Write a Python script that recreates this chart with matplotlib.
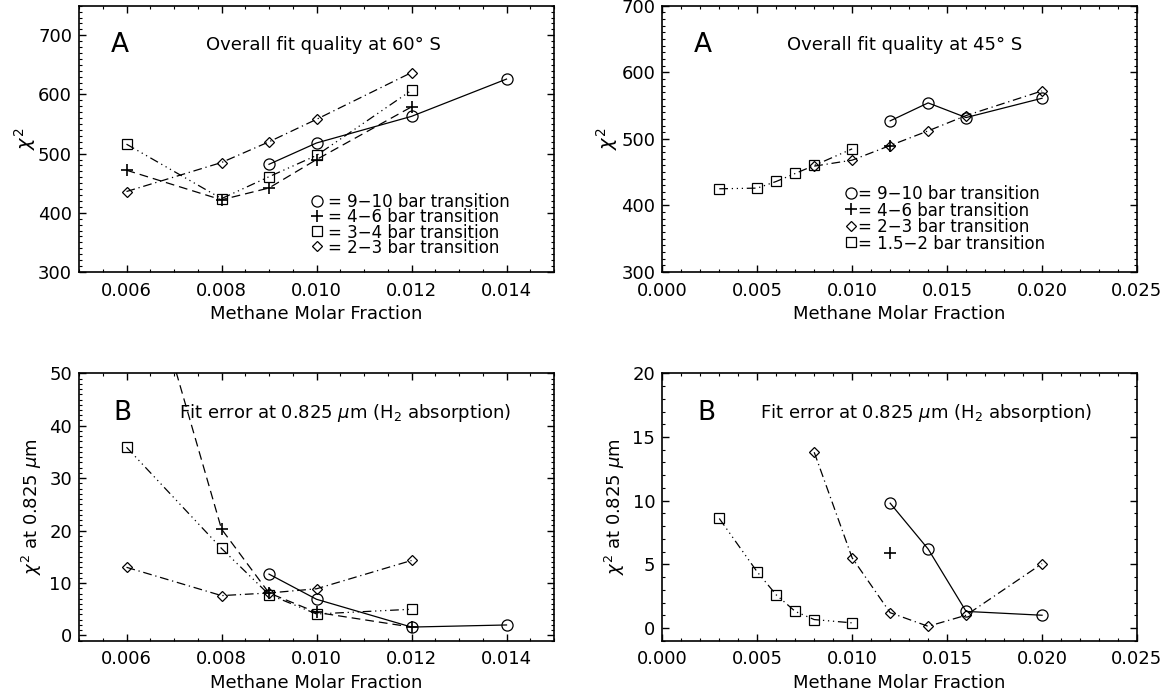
import numpy as np
import matplotlib
matplotlib.use("Agg")
import matplotlib.pyplot as plt
from matplotlib.ticker import MultipleLocator, FormatStrFormatter

plt.rcParams["font.family"] = ["DejaVu Sans"]
plt.rcParams["mathtext.fontset"] = "dejavusans"

# 60 S: overall chi^2
x60_circ = [0.009, 0.010, 0.012, 0.014]
chi60_circ = [482, 518, 563, 626]
x60_plus = [0.006, 0.008, 0.009, 0.010, 0.012]
chi60_plus = [472, 422, 442, 490, 579]
x60_sq = [0.006, 0.008, 0.009, 0.010, 0.012]
chi60_sq = [516, 424, 461, 497, 607]
x60_dia = [0.006, 0.008, 0.009, 0.010, 0.012]
chi60_dia = [436, 485, 520, 558, 637]

# 60 S: chi^2 at 0.825 um
err60_circ = [11.7, 6.9, 1.6, 2.0]
err60_plus = [83.0, 20.3, 8.1, 4.4, 1.6]
err60_sq = [35.9, 16.6, 7.8, 4.1, 5.0]
err60_dia = [13.0, 7.6, 8.1, 8.9, 14.3]

# 45 S: overall chi^2
x45_circ = [0.012, 0.014, 0.016, 0.020]
chi45_circ = [527, 554, 532, 561]
x45_plus = [0.012]
chi45_plus = [490]
x45_dia = [0.008, 0.010, 0.012, 0.014, 0.016, 0.020]
chi45_dia = [459, 468, 490, 512, 535, 572]
x45_sq = [0.003, 0.005, 0.006, 0.007, 0.008, 0.010]
chi45_sq = [425, 426, 436, 448, 460, 485]

# 45 S: chi^2 at 0.825 um
err45_circ = [9.8, 6.2, 1.3, 1.0]
err45_plus = [5.9]
err45_dia = [13.8, 5.5, 1.2, 0.13, 1.0, 5.05]
err45_sq = [8.6, 4.4, 2.6, 1.3, 0.66, 0.4]

labels60 = ["9\u221210 bar transition", "4\u22126 bar transition",
            "3\u22124 bar transition", "2\u22123 bar transition"]
labels45 = ["9\u221210 bar transition", "4\u22126 bar transition",
            "2\u22123 bar transition", "1.5\u22122 bar transition"]

LW = 0.9
DASH = (0, (7, 4))
DASHDOT = (0, (7, 3, 1, 3))
DASH3DOT = (0, (7, 3, 1, 3, 1, 3, 1, 3))
ST = {
    "circ": dict(marker="o", ms=8, ls="-"),
    "plus": dict(marker="+", ms=8.5, ls=DASH, mew=1.2),
    "sq": dict(marker="s", ms=7.5, ls=DASH3DOT),
    "dia": dict(marker="D", ms=5.5, ls=DASHDOT),
}
FS = 13

W, H = 1166, 694
fig = plt.figure(figsize=(W / 100, H / 100), dpi=100)


def make_ax(l, r, t, b):
    return fig.add_axes([l / W, 1 - b / H, (r - l) / W, (b - t) / H])


def series(ax, x, y, kind):
    st = ST[kind]
    ax.plot(x, y, color="black", lw=LW, linestyle=st["ls"], marker=st["marker"],
            ms=st["ms"], mfc="none", mec="black", mew=st.get("mew", 0.9))


def style(ax, xlim, xmaj, xmin, ylim, ymaj, ymin):
    ax.set_xlim(*xlim)
    ax.set_ylim(*ylim)
    ax.xaxis.set_major_locator(MultipleLocator(xmaj))
    ax.xaxis.set_minor_locator(MultipleLocator(xmin))
    ax.yaxis.set_major_locator(MultipleLocator(ymaj))
    ax.yaxis.set_minor_locator(MultipleLocator(ymin))
    ax.xaxis.set_major_formatter(FormatStrFormatter("%.3f"))
    ax.tick_params(which="both", direction="in", top=True, right=True, labelsize=FS)
    ax.tick_params(which="major", length=5, width=1)
    ax.tick_params(which="minor", length=2.5, width=0.8)
    ax.tick_params(axis="x", pad=7)
    ax.tick_params(axis="y", pad=5)
    for s in ax.spines.values():
        s.set_linewidth(1.2)
    ax.set_xlabel("Methane Molar Fraction", fontsize=FS)


def legend_block(ax, x0, y0_px, dy_px, kinds, labels, gap, ls):
    # markers on each row, labels as one multi-line text block
    h_ax = ax.get_position().height * H
    rows = []
    for i, k in enumerate(kinds):
        st = ST[k]
        y = y0_px - i * dy_px
        rows.append(y)
        ax.plot([x0], [y / h_ax], transform=ax.transAxes, marker=st["marker"],
                ms=st["ms"], mfc="none", mec="black", mew=st.get("mew", 0.9),
                ls="none", clip_on=False)
    yc = (np.mean(rows) - 1.5) / h_ax
    ax.text(x0 + gap, yc, "\n".join("= " + s for s in labels), transform=ax.transAxes,
            fontsize=12, va="center", ha="left", linespacing=ls)


# top-left: 60 S overall
ax1 = make_ax(79, 554, 5.7, 272)
series(ax1, x60_circ, chi60_circ, "circ")
series(ax1, x60_plus, chi60_plus, "plus")
series(ax1, x60_sq, chi60_sq, "sq")
series(ax1, x60_dia, chi60_dia, "dia")
style(ax1, (0.005, 0.015), 0.002, 0.0005, (300, 750), 100, 10)
ax1.set_ylabel(r"$\chi^2$", fontsize=14)
ax1.yaxis.set_label_coords(-0.114, 0.5)
ax1.text(0.086, 0.853, "A", transform=ax1.transAxes, fontsize=19, ha="center", va="center")
ax1.text(0.515, 0.853, "Overall fit quality at 60\u00b0 S", transform=ax1.transAxes,
         fontsize=FS, ha="center", va="center")
legend_block(ax1, (316.7 - 79) / 475, 272 - 201, 15, ["circ", "plus", "sq", "dia"],
             labels60, 0.024, 0.816)

# top-right: 45 S overall
ax2 = make_ax(662.3, 1137, 5.7, 272)
series(ax2, x45_circ, chi45_circ, "circ")
series(ax2, x45_dia, chi45_dia, "dia")
series(ax2, x45_sq, chi45_sq, "sq")
series(ax2, x45_plus, chi45_plus, "plus")
style(ax2, (0.0, 0.025), 0.005, 0.001, (300, 700), 100, 10)
ax2.set_ylabel(r"$\chi^2$", fontsize=14)
ax2.yaxis.set_label_coords(-0.116, 0.5)
ax2.text(0.086, 0.853, "A", transform=ax2.transAxes, fontsize=19, ha="center", va="center")
ax2.text(0.51, 0.853, "Overall fit quality at 45\u00b0 S", transform=ax2.transAxes,
         fontsize=FS, ha="center", va="center")
legend_block(ax2, (850.7 - 662.3) / 474.7, 272 - 192.7, 16.5, ["circ", "plus", "dia", "sq"],
             labels45, 0.015, 0.913)

# bottom-left: 60 S error at 0.825 um
ax3 = make_ax(79, 554, 373.3, 640.7)
series(ax3, x60_circ, err60_circ, "circ")
series(ax3, x60_plus, err60_plus, "plus")
series(ax3, x60_sq, err60_sq, "sq")
series(ax3, x60_dia, err60_dia, "dia")
style(ax3, (0.005, 0.015), 0.002, 0.0005, (-1, 50), 10, 1)
ax3.set_ylabel(r"$\chi^2$ at 0.825 $\mu$m", fontsize=FS)
ax3.yaxis.set_label_coords(-0.099, 0.5)
ax3.text(0.092, 0.85, "B", transform=ax3.transAxes, fontsize=19, ha="center", va="center")
ax3.text(0.56, 0.85, r"Fit error at 0.825 $\mu$m (H$_2$ absorption)",
         transform=ax3.transAxes, fontsize=FS, ha="center", va="center")

# bottom-right: 45 S error at 0.825 um
ax4 = make_ax(662.3, 1137, 373.3, 640.7)
series(ax4, x45_circ, err45_circ, "circ")
series(ax4, x45_dia, err45_dia, "dia")
series(ax4, x45_sq, err45_sq, "sq")
series(ax4, x45_plus, err45_plus, "plus")
style(ax4, (0.0, 0.025), 0.005, 0.001, (-1, 20), 5, 1)
ax4.set_ylabel(r"$\chi^2$ at 0.825 $\mu$m", fontsize=FS)
ax4.yaxis.set_label_coords(-0.1, 0.5)
ax4.text(0.092, 0.85, "B", transform=ax4.transAxes, fontsize=19, ha="center", va="center")
ax4.text(0.556, 0.85, r"Fit error at 0.825 $\mu$m (H$_2$ absorption)",
         transform=ax4.transAxes, fontsize=FS, ha="center", va="center")

for ax in (ax1, ax2, ax3, ax4):
    ax.xaxis.set_label_coords(0.5, -0.158)
    ax.xaxis.label.set_va("center")
    ax.yaxis.label.set_va("center")

fig.savefig("out.png", dpi=100)
